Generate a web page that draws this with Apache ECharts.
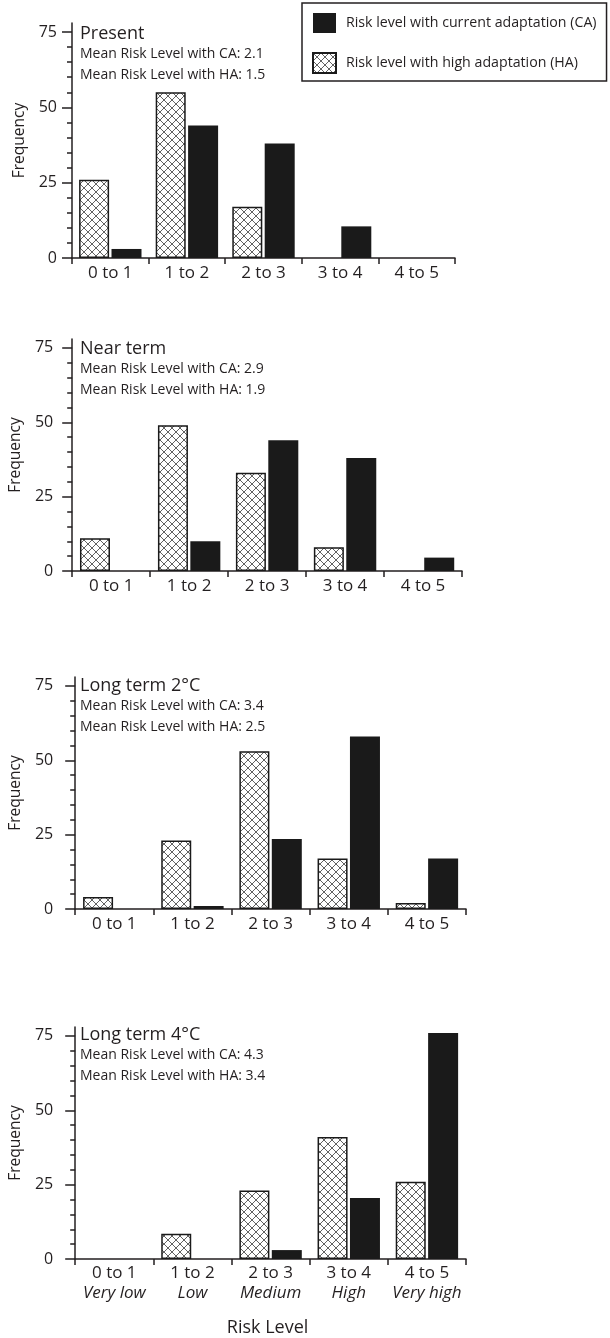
<!DOCTYPE html>
<html>
<head>
<meta charset="utf-8">
<script src="https://cdn.jsdelivr.net/npm/echarts@6/dist/echarts.min.js"></script>
<style>
  html, body { margin: 0; padding: 0; background: #fff; }
  #chart { width: 610px; height: 1338px; }
</style>
</head>
<body>
<div id="chart"></div>
<script>
// data
var categories = ["0 to 1", "1 to 2", "2 to 3", "3 to 4", "4 to 5"];
var levelNames = ["Very low", "Low", "Medium", "High", "Very high"];
var panelTitles = ["Present", "Near term", "Long term 2°C", "Long term 4°C"];
var meanCA = [2.1, 2.9, 3.4, 4.3];
var meanHA = [1.5, 1.9, 2.5, 3.4];
var haPresent = [26, 55, 17, 0, 0];
var caPresent = [3, 44, 38, 10.5, 0];
var haNear = [11, 49, 33, 8, 0];
var caNear = [0, 10, 44, 38, 4.5];
var haLong2 = [4, 23, 53, 17, 2];
var caLong2 = [0, 1, 23.5, 58, 17];
var haLong4 = [0, 8.5, 23, 41, 26];
var caLong4 = [0, 0, 3, 20.5, 76];
var majorTicks = [0, 25, 50, 75];
var minorTicks = [5, 10, 15, 20, 30, 35, 40, 45, 55, 60, 65, 70];

var haData = [haPresent, haNear, haLong2, haLong4];
var caData = [caPresent, caNear, caLong2, caLong4];

var nameCA = "Risk level with current adaptation (CA)";
var nameHA = "Risk level with high adaptation (HA)";

// panel layout
var grids = [
  { top: 23, height: 235, width: 383, labelMargin: 15, titleTop: 25 },
  { top: 339, height: 232, width: 390, labelMargin: 19, titleTop: 340 },
  { top: 677, height: 232, width: 394, labelMargin: 22, titleTop: 677 },
  { top: 1027, height: 232, width: 394, labelMargin: 22, titleTop: 1026 }
];

var ink = "#231f20";
var font = "Open Sans";

// cross hatch for the HA bars
var hatch = document.createElement("canvas");
hatch.width = 8;
hatch.height = 8;
var ctx = hatch.getContext("2d");
ctx.fillStyle = "#fff";
ctx.fillRect(0, 0, 8, 8);
ctx.strokeStyle = "#3a3a3a";
ctx.lineWidth = 0.8;
ctx.beginPath();
ctx.moveTo(0, 0); ctx.lineTo(8, 8);
ctx.moveTo(8, 0); ctx.lineTo(0, 8);
ctx.stroke();

function nz(arr) {
  return arr.map(function (v) { return v === 0 ? "-" : v; });
}

var option = {
  animation: false,
  backgroundColor: "#fff",
  textStyle: { fontFamily: font, color: ink },
  title: [],
  grid: [],
  xAxis: [],
  yAxis: [],
  series: [],
  legend: {
    orient: "vertical",
    left: 302,
    top: 3,
    padding: [10, 10, 7, 10],
    borderColor: ink,
    borderWidth: 1.5,
    itemWidth: 23,
    itemHeight: 20,
    itemGap: 19,
    icon: "rect",
    data: [nameCA, nameHA],
    textStyle: { fontFamily: font, fontSize: 14.2, color: ink, padding: [0, 0, 0, 5] }
  }
};

for (var i = 0; i < 4; i++) {
  var g = grids[i];
  option.title.push({
    text: panelTitles[i],
    subtext: "Mean Risk Level with CA: " + meanCA[i] + "\nMean Risk Level with HA: " + meanHA[i],
    left: 80,
    top: g.titleTop,
    padding: 0,
    itemGap: 1,
    textStyle: { fontFamily: font, fontSize: 18, fontWeight: "normal", color: ink },
    subtextStyle: { fontFamily: font, fontSize: 14, color: ink, lineHeight: 21 }
  });
  option.grid.push({ left: 72, top: g.top, width: g.width, height: g.height });

  var last = i === 3;
  option.xAxis.push({
    type: "category",
    gridIndex: i,
    data: categories.map(function (c, k) { return last ? c + "\n{i|" + levelNames[k] + "}" : c; }),
    axisLine: { lineStyle: { color: ink, width: 1.5 } },
    axisTick: { show: true, length: 6, lineStyle: { color: ink, width: 1.5 } },
    axisLabel: {
      interval: 0,
      hideOverlap: false,
      color: ink, fontFamily: font, fontSize: 17, margin: last ? 4 : 5,
      lineHeight: 20,
      rich: { i: { fontStyle: "italic", fontFamily: font, fontSize: 17, color: ink, lineHeight: 20 } }
    },
    name: last ? "Risk Level" : "",
    nameLocation: "middle",
    nameGap: 60,
    nameTextStyle: { fontFamily: font, fontSize: 18, color: ink, padding: [0, 6, 0, 0] }
  });
  option.yAxis.push({
    type: "value",
    gridIndex: i,
    position: "left",
    min: 0,
    max: 78,
    splitLine: { show: false },
    axisLine: { show: true, lineStyle: { color: ink, width: 1.5 } },
    axisTick: { show: true, length: 10, customValues: majorTicks, lineStyle: { color: ink, width: 1.5 } },
    axisLabel: { customValues: majorTicks, color: ink, fontFamily: font, fontSize: 16, margin: g.labelMargin },
    name: "Frequency",
    nameLocation: "middle",
    nameRotate: 90,
    nameGap: 43,
    nameTextStyle: { fontFamily: font, fontSize: 15.5, color: ink }
  });
  // minor ticks every 5
  option.yAxis.push({
    type: "value",
    gridIndex: i,
    position: "left",
    min: 0,
    max: 78,
    splitLine: { show: false },
    axisLine: { show: false },
    axisTick: { show: true, length: 5, customValues: minorTicks, lineStyle: { color: ink, width: 1.5 } },
    axisLabel: { show: false }
  });

  option.series.push({
    name: nameHA,
    type: "bar",
    xAxisIndex: i,
    yAxisIndex: i * 2,
    barWidth: 30,
    barGap: "8%",
    data: nz(haData[i]),
    itemStyle: { color: { image: hatch, repeat: "repeat" }, borderColor: "#1a1a1a", borderWidth: 1.5 }
  });
  option.series.push({
    name: nameCA,
    type: "bar",
    xAxisIndex: i,
    yAxisIndex: i * 2,
    barWidth: 30,
    barGap: "8%",
    data: nz(caData[i]),
    itemStyle: { color: "#1a1a1a" }
  });
}

var myChart = echarts.init(document.getElementById("chart"));
myChart.setOption(option);
</script>
</body>
</html>
